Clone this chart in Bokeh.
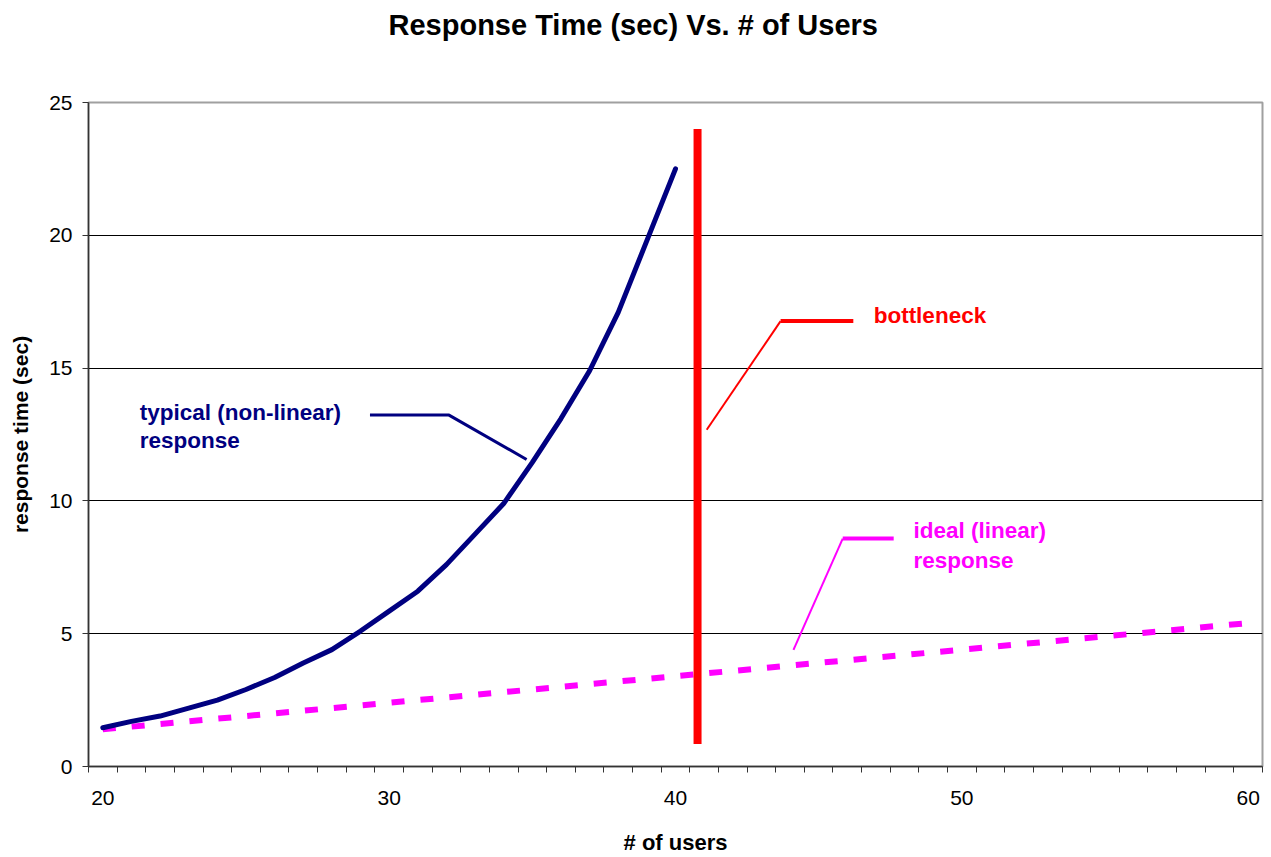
from bokeh.plotting import figure
from bokeh.models import Range1d, FixedTicker, Label, Title
from bokeh.embed import file_html
from bokeh.resources import INLINE

# ---- data ----
users = [20, 21, 22, 23, 24, 25, 26, 27, 28, 29, 30, 31, 32, 33, 34, 35, 36, 37, 38, 39, 40,
         41, 42, 43, 44, 45, 46, 47, 48, 49, 50, 51, 52, 53, 54, 55, 56, 57, 58, 59, 60]
typical_users = [20, 21, 22, 23, 24, 25, 26, 27, 28, 29, 30, 31, 32, 33, 34, 35, 36, 37, 38, 39, 40]
typical_time = [1.46, 1.7, 1.9, 2.2, 2.5, 2.9, 3.35, 3.9, 4.4, 5.1, 5.85, 6.6, 7.6, 8.75, 9.9,
                11.45, 13.1, 14.9, 17.1, 19.8, 22.5]
ideal_time = [1.4, 1.5, 1.6, 1.7, 1.8, 1.9, 2.0, 2.1, 2.2, 2.3, 2.4, 2.5, 2.6, 2.7, 2.8, 2.9,
              3.0, 3.1, 3.2, 3.3, 3.4, 3.5, 3.6, 3.7, 3.8, 3.9, 4.0, 4.1, 4.2, 4.3, 4.4, 4.5,
              4.6, 4.7, 4.8, 4.9, 5.0, 5.1, 5.2, 5.3, 5.4]
x_tick_labels = [20, 30, 40, 50, 60]
y_tick_labels = [0, 5, 10, 15, 20, 25]

bottleneck_x = [40.77, 40.77]
bottleneck_y = [0.85, 24.0]

typical_callout_x = [29.33, 32.09, 34.80]
typical_callout_y = [13.23, 13.23, 11.56]
bottleneck_callout_x = [46.21, 43.67, 41.09]
bottleneck_callout_y = [16.77, 16.77, 12.68]
ideal_callout_x = [47.62, 45.84, 44.12]
ideal_callout_y = [8.58, 8.58, 4.39]

FONT = "Liberation Sans"
NAVY = "#000080"
RED = "#FF0000"
MAGENTA = "#FF00FF"

p = figure(width=1271, height=857,
           x_range=Range1d(19.5, 60.5), y_range=Range1d(0, 25),
           output_backend="svg", toolbar_location=None,
           min_border_left=88, min_border_right=9,
           min_border_top=102, min_border_bottom=88)

p.background_fill_color = "white"
p.border_fill_color = "white"
p.outline_line_color = "#A0A0A0"
p.outline_line_width = 2

# spacer between the frame and the chart title, then the title itself
p.add_layout(Title(text=" ", text_font_size="10px", standoff=44), "above")
p.add_layout(Title(text="Response Time (sec) Vs. # of Users", text_font=FONT,
                   text_font_size="29px", text_font_style="bold", text_color="black",
                   align="left", offset=300), "above")

# grids
p.xgrid.visible = False
p.ygrid.ticker = FixedTicker(ticks=y_tick_labels)
p.ygrid.grid_line_color = "black"
p.ygrid.grid_line_width = 1

# x axis
xa = p.xaxis[0]
xa.ticker = FixedTicker(ticks=x_tick_labels,
                        minor_ticks=[u - 0.5 for u in users] + [users[-1] + 0.5])
xa.major_tick_out = 0
xa.major_tick_in = 0
xa.minor_tick_out = 6
xa.minor_tick_in = 0
xa.minor_tick_line_color = "#333333"
xa.axis_line_color = "#333333"
xa.axis_line_width = 1.5
xa.major_label_standoff = 18
xa.major_label_text_font = FONT
xa.major_label_text_font_size = "21px"
xa.major_label_text_color = "black"
xa.axis_label = "# of users"
xa.axis_label_text_font = FONT
xa.axis_label_text_font_size = "22px"
xa.axis_label_text_font_style = "bold"
xa.axis_label_text_color = "black"
xa.axis_label_standoff = 22

# y axis
ya = p.yaxis[0]
ya.ticker = FixedTicker(ticks=y_tick_labels)
ya.major_tick_out = 6
ya.major_tick_in = 0
ya.minor_tick_out = 0
ya.minor_tick_in = 0
ya.major_tick_line_color = "#333333"
ya.axis_line_color = "#333333"
ya.axis_line_width = 1.5
ya.major_label_standoff = 10
ya.major_label_text_font = FONT
ya.major_label_text_font_size = "21px"
ya.major_label_text_color = "black"
ya.axis_label = "response time (sec)"
ya.axis_label_text_font = FONT
ya.axis_label_text_font_size = "21px"
ya.axis_label_text_font_style = "bold"
ya.axis_label_text_color = "black"
ya.axis_label_standoff = 14

# series
p.line(users, ideal_time, line_color=MAGENTA, line_width=6, line_dash="13 16", line_cap="butt")
p.line(typical_users, typical_time, line_color=NAVY, line_width=5, line_join="round", line_cap="round")
p.line(bottleneck_x, bottleneck_y, line_color=RED, line_width=8, line_cap="butt")

# callouts
p.line(typical_callout_x, typical_callout_y, line_color=NAVY, line_width=3)
p.line(bottleneck_callout_x[:2], bottleneck_callout_y[:2], line_color=RED, line_width=4)
p.line(bottleneck_callout_x[1:], bottleneck_callout_y[1:], line_color=RED, line_width=2)
p.line(ideal_callout_x[:2], ideal_callout_y[:2], line_color=MAGENTA, line_width=4)
p.line(ideal_callout_x[1:], ideal_callout_y[1:], line_color=MAGENTA, line_width=2)

def note(x, y, text, color):
    p.add_layout(Label(x=x, y=y, text=text, text_color=color, text_font=FONT,
                       text_font_size="22.5px", text_font_style="bold",
                       text_align="left", text_baseline="middle"))

note(21.29, 13.34, "typical (non-linear)", NAVY)
note(21.29, 12.29, "response", NAVY)
note(46.92, 16.98, "bottleneck", RED)
note(48.31, 8.88, "ideal (linear)", MAGENTA)
note(48.31, 7.76, "response", MAGENTA)

open("out.html", "w").write(file_html(p, INLINE))
